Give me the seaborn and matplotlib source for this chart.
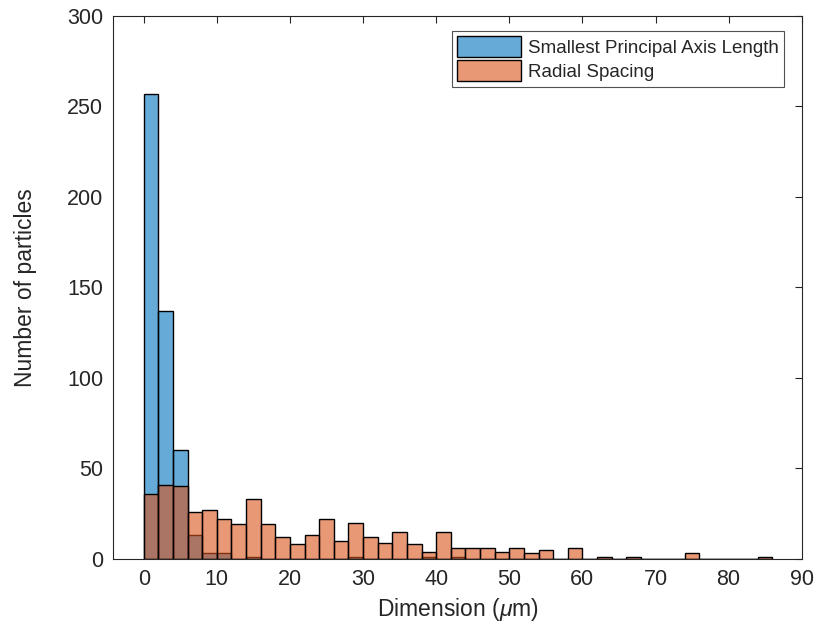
import numpy as np
import pandas as pd
import matplotlib
matplotlib.use("Agg")
import matplotlib.pyplot as plt
import seaborn as sns

# Bin edges (width 2 µm, from 0 to 86)
bin_edges = list(range(0, 88, 2))

# Counts per bin
axis_length_counts = [257, 137, 60, 13, 3, 3, 0, 1, 0, 0, 0, 0, 0, 0, 1, 0, 0, 0, 0, 1,
                      0, 1, 0, 0, 0, 0, 0, 0, 0, 0, 0, 0, 0, 0, 0, 0, 0, 0, 0, 0, 0, 0, 0]
radial_counts = [36, 41, 40, 26, 27, 22, 19, 33, 19, 12, 8, 13, 22, 10, 20, 12, 9, 15, 8, 4,
                 15, 6, 6, 6, 4, 6, 3, 5, 0, 6, 0, 1, 0, 1, 0, 0, 0, 3, 0, 0, 0, 0, 1]

series_labels = ["Smallest Principal Axis Length", "Radial Spacing"]
x_ticks = [0, 10, 20, 30, 40, 50, 60, 70, 80, 90]
y_ticks = [0, 50, 100, 150, 200, 250, 300]

sns.set_style("white")
plt.rcParams['font.family'] = ['Liberation Sans', 'DejaVu Sans']
plt.rcParams['mathtext.fontset'] = 'custom'
plt.rcParams['mathtext.it'] = 'Liberation Sans:italic'
plt.rcParams['mathtext.rm'] = 'Liberation Sans'

fig = plt.figure(figsize=(8.15, 6.3), dpi=100)
ax = fig.add_axes([0.1387, 0.113, 0.845, 0.862])

edges = [float(e) for e in bin_edges]
centers = [(a + b) / 2 for a, b in zip(edges[:-1], edges[1:])]

df_a = pd.DataFrame({"x": centers, "w": [float(v) for v in axis_length_counts]})
df_r = pd.DataFrame({"x": centers, "w": [float(v) for v in radial_counts]})

blue = (0.0, 0.447, 0.741)
orange = (0.85, 0.325, 0.098)

sns.histplot(data=df_a, x="x", weights="w", bins=edges, color=blue, alpha=0.6,
             edgecolor="black", linewidth=1.0, ax=ax, label=series_labels[0])
sns.histplot(data=df_r, x="x", weights="w", bins=edges, color=orange, alpha=0.6,
             edgecolor="black", linewidth=1.0, ax=ax, label=series_labels[1])

ax.set_xlim(-4.2, 90)
ax.set_ylim(0, 300)
ax.set_xticks(x_ticks)
ax.set_yticks(y_ticks)
ax.tick_params(direction="in", top=True, right=True, length=5, width=0.8,
               labelsize=15.5, colors="#262626", pad=7)
for s in ax.spines.values():
    s.set_color("#262626")
    s.set_linewidth(0.8)
    s.set_visible(True)

ax.set_xlabel(r"Dimension ($\mu$m)", fontsize=16.5, color="#262626", labelpad=5)
ax.set_ylabel("Number of particles", fontsize=16.5, color="#262626", labelpad=22)

leg = ax.legend(loc="upper right", fontsize=13.5, frameon=True, fancybox=False,
                edgecolor="#262626", handlelength=3.4, handleheight=1.3,
                handletextpad=0.35, borderpad=0.3, labelspacing=0.2,
                bbox_to_anchor=(0.988, 0.99))
leg.get_frame().set_linewidth(0.8)

fig.savefig("out.png", dpi=100)
